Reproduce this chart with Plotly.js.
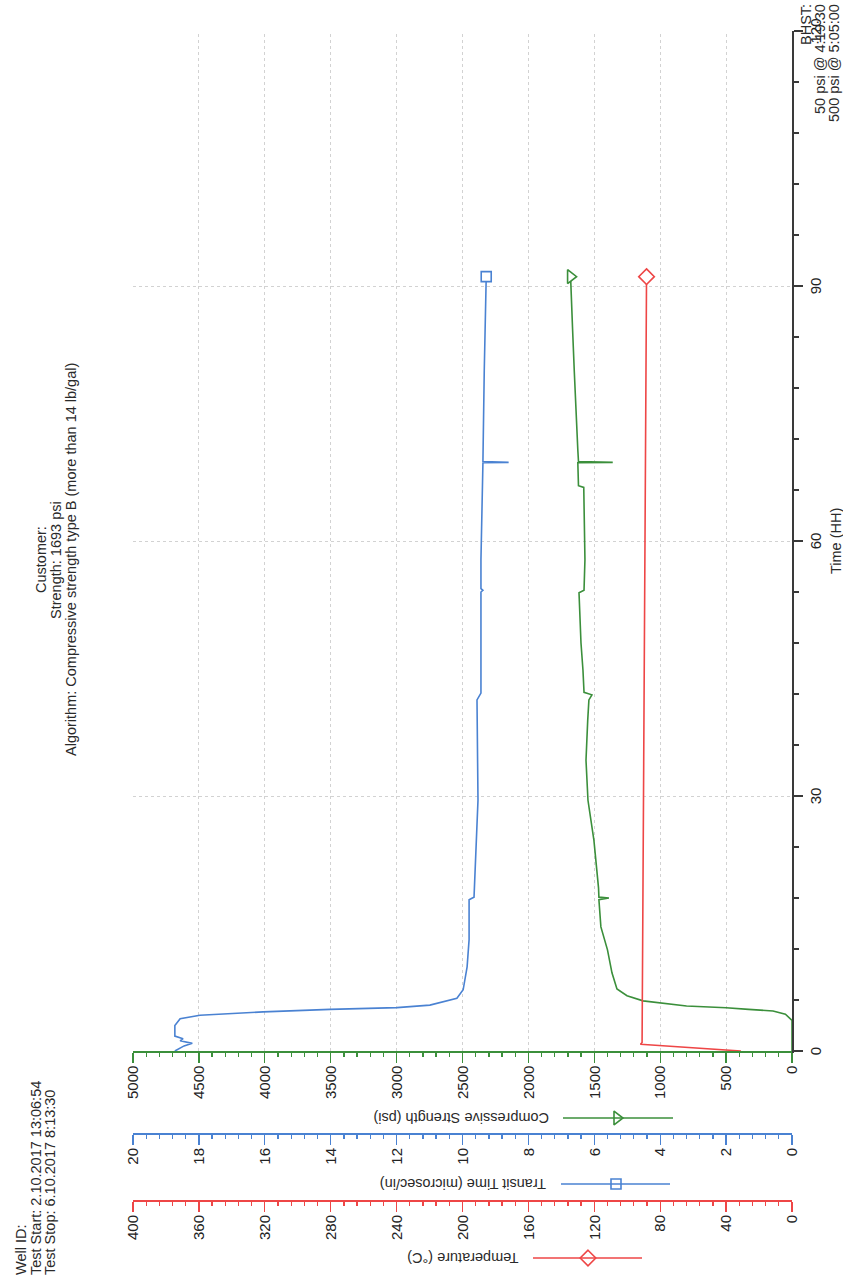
<!DOCTYPE html>
<html>
<head>
<meta charset="utf-8">
<script src="https://cdn.plot.ly/plotly-3.0.1.min.js"></script>
<style>
html, body { margin:0; padding:0; background:#fff; width:843px; height:1279px; overflow:hidden; }
#wrap { position:absolute; left:0; top:0; width:1279px; height:843px;
        transform-origin:0 0; transform:translate(0px,1279px) rotate(-90deg); }
#chart { width:1279px; height:843px; }
</style>
</head>
<body>
<div id="wrap"><div id="chart"></div></div>
<script>
// ---------------- data ----------------
const timeStrength = [0, 3.6, 4.33, 4.7, 4.9, 5.08, 5.3, 5.9, 6.5, 7.3, 9.2, 11.9, 14.6, 17.8, 18.0, 18.1, 19.2, 24.8, 29.5, 34.2, 38.9, 41.3, 41.9, 42.2, 44.8, 48.0, 53.9, 54.2, 57.8, 62.0, 66.3, 66.5, 69.2, 69.25, 69.35, 70.7, 75, 80, 85, 91.1];
const strengthPsi  = [0, 0, 50, 144, 330, 500, 800, 1130, 1252, 1328, 1366, 1400, 1450, 1465, 1389, 1465, 1468, 1503, 1548, 1563, 1550, 1541, 1518, 1578, 1586, 1601, 1616, 1578, 1571, 1575, 1580, 1620, 1625, 1360, 1620, 1625, 1640, 1652, 1665, 1680];

const timeTransit = [0, 0.6, 0.9, 1.2, 1.45, 1.75, 3.0, 3.8, 4.2, 4.6, 4.9, 5.1, 5.4, 6.2, 7.2, 9.9, 13.1, 17.8, 18.0, 18.1, 29.5, 41.3, 42.1, 54.0, 54.2, 54.4, 57.8, 66.0, 69.2, 69.25, 69.35, 80, 91.1];
const transitUs   = [18.73, 18.45, 18.2, 18.57, 18.48, 18.73, 18.73, 18.57, 17.97, 16.05, 14.02, 11.99, 10.99, 10.17, 9.98, 9.86, 9.80, 9.80, 9.70, 9.65, 9.53, 9.56, 9.44, 9.44, 9.38, 9.44, 9.44, 9.40, 9.38, 8.6, 9.38, 9.34, 9.28];

const timeTemp = [0, 0.8, 1.0, 30, 60, 91.1];
const tempC    = [31, 92, 91, 90.2, 89.3, 88.3];

const timeTicks = [0, 30, 60, 90, 120];

// ---------------- helpers for page (pixel) placement ----------------
const W = 1279, H = 843;
const px = u => u / W;
const py = v => 1 - v / H;

const GREEN = '#3b8f3b', BLUE = '#4a82d2', RED = '#ee4646';
const GRID = '#d2d2d2';
const FONT = 'Liberation Sans, Arial, sans-serif';
const last = a => a[a.length - 1];

const traces = [
  { x: timeStrength, y: strengthPsi, xaxis: 'x', yaxis: 'y', mode: 'lines',
    line: { color: GREEN, width: 1.6 }, hoverinfo: 'skip' },
  { x: timeTransit, y: transitUs, xaxis: 'x', yaxis: 'y2', mode: 'lines',
    line: { color: BLUE, width: 1.6 }, hoverinfo: 'skip' },
  { x: timeTemp, y: tempC, xaxis: 'x', yaxis: 'y3', mode: 'lines',
    line: { color: RED, width: 1.6 }, hoverinfo: 'skip' },
  // end-of-series markers
  { x: [last(timeStrength)], y: [last(strengthPsi)], xaxis: 'x', yaxis: 'y', mode: 'markers',
    marker: { symbol: 'triangle-down', size: 12, color: 'white', line: { color: GREEN, width: 1.6 } } },
  { x: [last(timeTransit)], y: [last(transitUs)], xaxis: 'x', yaxis: 'y2', mode: 'markers',
    marker: { symbol: 'square', size: 10, color: 'white', line: { color: BLUE, width: 1.6 } } },
  { x: [last(timeTemp)], y: [last(tempC)], xaxis: 'x', yaxis: 'y3', mode: 'markers',
    marker: { symbol: 'diamond', size: 12, color: 'white', line: { color: RED, width: 1.6 } } },
  // legend samples next to the axis titles (page pixel axes)
  { x: [161], y: [617], xaxis: 'x4', yaxis: 'y4', mode: 'markers',
    marker: { symbol: 'triangle-down', size: 12, color: 'white', line: { color: GREEN, width: 1.6 } } },
  { x: [95], y: [616], xaxis: 'x4', yaxis: 'y4', mode: 'markers',
    marker: { symbol: 'square', size: 10, color: 'white', line: { color: BLUE, width: 1.6 } } },
  { x: [21], y: [588], xaxis: 'x4', yaxis: 'y4', mode: 'markers',
    marker: { symbol: 'diamond', size: 12, color: 'white', line: { color: RED, width: 1.6 } } }
];

function yAx(color, range, dtick, minor, extra) {
  return Object.assign({
    range: range, dtick: dtick, tick0: 0, showline: true, linecolor: color, linewidth: 1.6,
    ticks: 'outside', ticklen: 10, tickwidth: 1.3, tickcolor: color,
    minor: { dtick: minor, tick0: 0, ticks: 'outside', ticklen: 4, tickwidth: 1.3, tickcolor: color, showgrid: false },
    tickfont: { family: FONT, size: 15, color: '#222' }, zeroline: false, fixedrange: true
  }, extra);
}

const layout = {
  width: W, height: H, margin: { l: 0, r: 0, t: 0, b: 0, autoexpand: false },
  paper_bgcolor: 'white', plot_bgcolor: 'rgba(0,0,0,0)', showlegend: false,
  font: { family: FONT, color: '#222' },
  xaxis: {
    domain: [px(228), px(1248)], range: [0, 120], anchor: 'y',
    tickvals: timeTicks, ticktext: timeTicks.map(String),
    showline: true, linecolor: '#3a3a3a', linewidth: 1.6,
    ticks: 'outside', ticklen: 9, tickwidth: 1.3, tickcolor: '#3a3a3a',
    minor: { dtick: 6, tick0: 0, ticks: 'outside', ticklen: 5, tickwidth: 1.3, tickcolor: '#3a3a3a', showgrid: false },
    showgrid: true, gridcolor: GRID, griddash: 'dot', gridwidth: 1,
    tickfont: { family: FONT, size: 15, color: '#222' }, zeroline: false, fixedrange: true
  },
  yaxis: yAx(GREEN, [0, 5000], 500, 100, {
    domain: [py(792), py(133)], anchor: 'x',
    showgrid: true, gridcolor: GRID, griddash: 'dot', gridwidth: 1 }),
  yaxis2: yAx(BLUE, [0, 20], 2, 0.4, {
    overlaying: 'y', anchor: 'free', position: px(144), showgrid: false }),
  yaxis3: yAx(RED, [0, 400], 40, 8, {
    overlaying: 'y', anchor: 'free', position: px(77), showgrid: false }),
  xaxis4: { domain: [0, 1], range: [0, W], anchor: 'y4', visible: false, fixedrange: true },
  yaxis4: { domain: [0, 1], range: [H, 0], anchor: 'x4', visible: false, fixedrange: true },
  shapes: [
    { type: 'line', xref: 'paper', yref: 'paper', x0: px(161), x1: px(161), y0: py(563), y1: py(673), line: { color: GREEN, width: 1.6 } },
    { type: 'line', xref: 'paper', yref: 'paper', x0: px(95), x1: px(95), y0: py(561), y1: py(670), line: { color: BLUE, width: 1.6 } },
    { type: 'line', xref: 'paper', yref: 'paper', x0: px(21), x1: px(21), y0: py(533), y1: py(642), line: { color: RED, width: 1.6 } }
  ],
  annotations: []
};

function note(text, u, v, xanchor, yanchor, size, angle) {
  layout.annotations.push({ text: text, xref: 'paper', yref: 'paper', x: px(u), y: py(v),
    xanchor: xanchor, yanchor: yanchor, showarrow: false, textangle: angle || 0,
    font: { family: FONT, size: size, color: '#2a2a2a' } });
}
const TS = 14.5;
// header, top-left
note('Well ID:', 2, 21, 'left', 'middle', TS);
note('Test Start: 2.10.2017 13:06:54', 2, 36, 'left', 'middle', TS);
note('Test Stop: 6.10.2017 8:13:30', 2, 50, 'left', 'middle', TS);
// header, centre
note('Customer:', 719, 41, 'center', 'middle', TS);
note('Strength: 1693 psi', 719, 56, 'center', 'middle', TS);
note('Algorithm: Compressive strength type B (more than 14 lb/gal)', 719, 71, 'center', 'middle', TS);
// bottom-right block
note('BHST:', 1277, 806, 'right', 'middle', TS);
note('50 psi @ 4:19:30', 1277, 820, 'right', 'middle', TS);
note('500 psi @ 5:05:00', 1277, 834, 'right', 'middle', TS);
// axis titles
note('Time (HH)', 738, 836, 'center', 'middle', 14.5);
note('Compressive Strength (psi)', 161, 551, 'center', 'bottom', 14.5, -90);
note('Transit Time (microsec/in)', 95, 548, 'center', 'bottom', 14.5, -90);
note('Temperature (°C)', 21, 521, 'center', 'bottom', 14.5, -90);

Plotly.newPlot('chart', traces, layout, { staticPlot: true, displayModeBar: false });
</script>
</body>
</html>
